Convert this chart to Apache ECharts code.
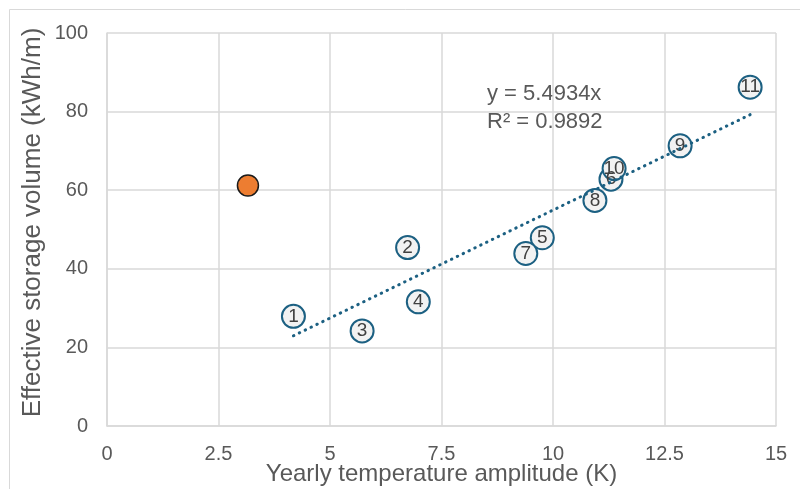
<!DOCTYPE html>
<html>
<head>
<meta charset="utf-8">
<script src="https://cdn.jsdelivr.net/npm/echarts@6/dist/echarts.min.js"></script>
<style>html,body{margin:0;padding:0;background:#fff}#c{width:800px;height:489px}</style>
</head>
<body>
<div id="c"></div>
<script>
// Numbered measurement points
const pointLabels = ['1','2','3','4','5','6','7','8','9','10','11'];
const xValues = [4.18, 6.74, 5.72, 6.98, 9.76, 11.30, 9.39, 10.94, 12.85, 11.37, 14.42];
const yValues = [27.9, 45.4, 24.2, 31.6, 47.9, 62.8, 43.9, 57.4, 71.3, 65.5, 86.2];
// Highlighted point
const highlightX = [3.16];
const highlightY = [61.2];
// Trendline (linear, through origin)
const trendSlope = 5.4934;
const trendR2 = 0.9892;
const xTicks = ['0','2.5','5','7.5','10','12.5','15'];
const yTicks = ['0','20','40','60','80','100'];

const pts = xValues.map((x, i) => ({ value: [x, yValues[i]], name: pointLabels[i] }));
const xmin = Math.min(...xValues), xmax = Math.max(...xValues);
const trend = [[xmin, trendSlope * xmin], [xmax, trendSlope * xmax]];

const chart = echarts.init(document.getElementById('c'), null, { renderer: 'canvas' });
const font = 'Liberation Sans, Arial, sans-serif';
chart.setOption({
  animation: false,
  backgroundColor: '#fff',
  textStyle: { fontFamily: font },
  grid: { left: 107, right: 24, top: 33, bottom: 63, show: false, containLabel: false, outerBoundsMode: 'none' },
  graphic: [
    { type: 'rect', shape: { x: 9.5, y: 9.5, width: 820, height: 520 }, style: { fill: 'none', stroke: '#d9d9d9', lineWidth: 1 }, silent: true, z: -10 },
    { type: 'text', left: 487, top: 83, style: { text: 'y = ' + trendSlope.toFixed(4) + 'x', fill: '#595959', font: '22px ' + font } },
    { type: 'text', left: 487, top: 111, style: { text: 'R² = ' + trendR2.toFixed(4), fill: '#595959', font: '22px ' + font } }
  ],
  xAxis: {
    type: 'value', min: 0, max: 15, interval: 2.5,
    name: 'Yearly temperature amplitude (K)', nameLocation: 'middle', nameGap: 36, nameMoveOverlap: false,
    nameTextStyle: { color: '#595959', fontSize: 24, fontFamily: font },
    axisLine: { show: true, lineStyle: { color: '#d9d9d9', width: 1.5 } },
    axisTick: { show: false },
    axisLabel: { color: '#595959', fontSize: 20, margin: 18, fontFamily: font,
      formatter: (v) => xTicks[Math.round(v / 2.5)] },
    splitLine: { show: true, lineStyle: { color: '#d9d9d9', width: 1.5 } }
  },
  yAxis: {
    type: 'value', min: 0, max: 100, interval: 20,
    name: 'Effective storage volume (kWh/m)', nameLocation: 'middle', nameGap: 61, nameMoveOverlap: false,
    nameTextStyle: { color: '#595959', fontSize: 26, fontFamily: font, padding: [0, 0, 0, 14] },
    axisLine: { show: true, lineStyle: { color: '#d9d9d9', width: 1.5 } },
    axisTick: { show: false },
    axisLabel: { color: '#595959', fontSize: 20, margin: 19, fontFamily: font,
      formatter: (v) => yTicks[Math.round(v / 20)] },
    splitLine: { show: true, lineStyle: { color: '#d9d9d9', width: 1.5 } }
  },
  series: [
    {
      type: 'scatter', data: pts, symbol: 'circle', symbolSize: 23, z: 3,
      itemStyle: { color: '#f2f2f2', borderColor: '#1c6082', borderWidth: 2, opacity: 1 },
      label: { show: true, position: 'inside', formatter: (p) => p.name, color: '#404040', fontSize: 19, fontFamily: font }
    },
    {
      type: 'line', data: trend, showSymbol: false, symbol: 'none', z: 4,
      lineStyle: { color: '#1c6082', width: 3, type: [0.5, 6], cap: 'round' }
    },
    {
      type: 'scatter', data: highlightX.map((x, i) => [x, highlightY[i]]), symbolSize: 21, z: 5,
      itemStyle: { color: '#ed7d31', borderColor: '#1a1a1a', borderWidth: 1.5, opacity: 1 }
    }
  ]
});
</script>
</body>
</html>
